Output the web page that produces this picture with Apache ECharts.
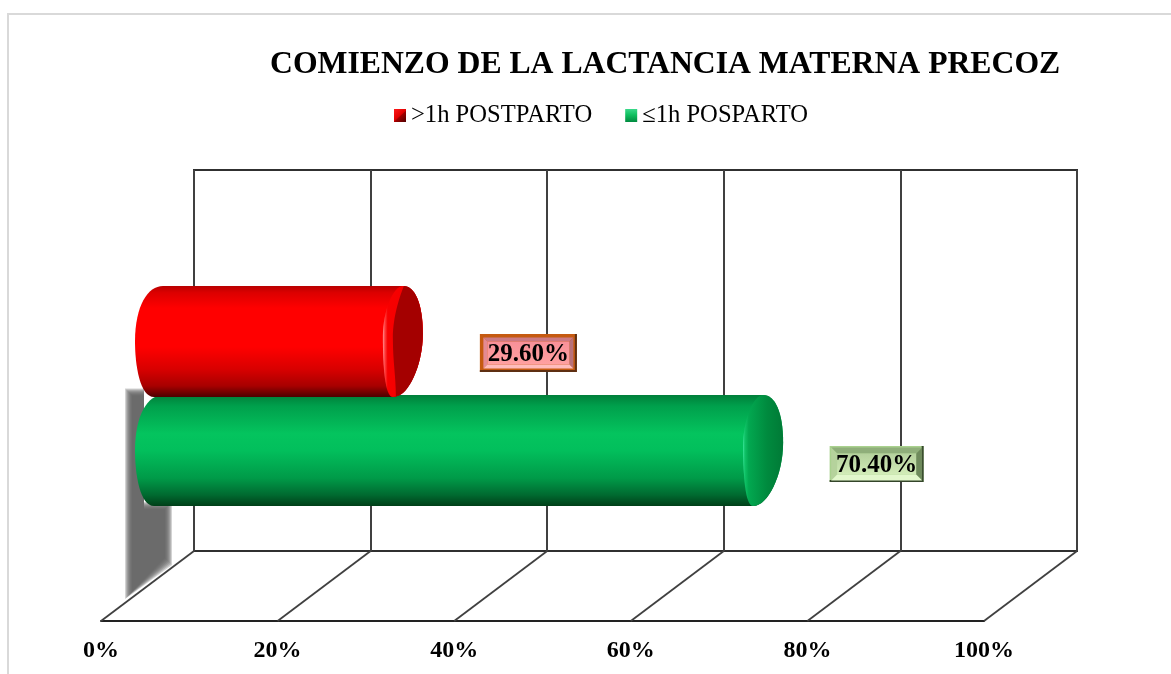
<!DOCTYPE html>
<html>
<head>
<meta charset="utf-8">
<style>html,body{margin:0;padding:0;background:#fff}#c{width:1171px;height:674px}</style>
<script src="https://cdn.jsdelivr.net/npm/echarts@6/dist/echarts.min.js"></script>
</head>
<body>
<div id="c"></div>
<script>
var titleText = 'COMIENZO DE LA LACTANCIA MATERNA PRECOZ';
var categories = ['Lactancia'];
var seriesNames = ['>1h POSTPARTO', '≤1h POSPARTO'];
var lateValues = [29.6];
var earlyValues = [70.4];
var ticks = [0, 20, 40, 60, 80, 100];

var FONT = '"Liberation Serif","Times New Roman",serif';
var LINE = '#404040';
var DX = -93, DY = 70;

function grad(horizontal, stops) {
  return {type:'linear', x:0, y:0, x2:horizontal?1:0, y2:horizontal?0:1,
    colorStops: stops.map(function(s){return {offset:s[0], color:s[1]};})};
}
function diag(stops) {
  return {type:'linear', x:0, y:0, x2:1, y2:1,
    colorStops: stops.map(function(s){return {offset:s[0], color:s[1]};})};
}
var redBody = grad(false, [[0,'#b80000'],[0.06,'#dc0000'],[0.2,'#ff0000'],[0.55,'#ff0000'],[0.75,'#d80000'],[0.9,'#a80000'],[1,'#4c0000']]);
var greenBody = grad(false, [[0,'#007f3a'],[0.1,'#00a04c'],[0.35,'#04c45e'],[0.5,'#02bf5c'],[0.75,'#009a48'],[0.9,'#006a30'],[1,'#003f18']]);
var redBand = grad(true, [[0,'#ff9090'],[0.05,'#ff4040'],[0.12,'#f80000'],[1,'#f00000']]);
var greenBand = grad(true, [[0,'#40e8a0'],[0.04,'#10c468'],[0.14,'#02a850'],[0.6,'#008a3e'],[1,'#007a36']]);
var redDark = '#a40000';
var redIcon = diag([[0,'#ff1a1a'],[0.5,'#e00000'],[0.55,'#a00000'],[1,'#500000']]);
var greenIcon = grad(false, [[0,'#3ad98a'],[0.45,'#10c060'],[1,'#008a40']]);

var boxStyles = {
  late: {dx:73, dy:11.5, w:97, h:38, o:3.5, border:4, outer:'#c55a11', outerDark:'#5e2f12',
         top:'#cc7a84', left:'#e48a92', right:'#b87078', bottom:'#ffbcbc', face:grad(false,[[0,'#f89098'],[1,'#ffa0a0']])},
  early:{dx:61, dy:13.5, w:94, h:36, o:1.5, border:6, outer:'#a9d18e', outerDark:'#34452a',
         top:'#8fae7a', left:'#b5d29c', right:'#6e8a5c', bottom:'#e2f7cc', face:grad(false,[[0,'#b4d09c'],[1,'#d2ecb8']])}
};

function polygon(points, fill) {
  return {type:'polygon', shape:{points:points}, style:{fill:fill}};
}
function bevelBox(cx, cy, st, label) {
  var x0=cx-st.w/2, y0=cy-st.h/2, x1=cx+st.w/2, y1=cy+st.h/2, b=st.border, o=st.o;
  var ix0=x0+o, iy0=y0+o, ix1=x1-o, iy1=y1-o;
  return [
    {type:'rect', shape:{x:x0,y:y0,width:st.w,height:st.h}, style:{fill:st.outer}},
    polygon([[x1-2,y0],[x1,y0],[x1,y1],[x0,y1],[x0,y1-2],[x1-2,y1-2]], st.outerDark),
    polygon([[ix0,iy0],[ix1,iy0],[ix1-b,iy0+b],[ix0+b,iy0+b]], st.top),
    polygon([[ix0,iy0],[ix0+b,iy0+b],[ix0+b,iy1-b],[ix0,iy1]], st.left),
    polygon([[ix1,iy0],[ix1,iy1],[ix1-b,iy1-b],[ix1-b,iy0+b]], st.right),
    polygon([[ix0,iy1],[ix0+b,iy1-b],[ix1-b,iy1-b],[ix1,iy1]], st.bottom),
    {type:'rect', shape:{x:ix0+b,y:iy0+b,width:ix1-ix0-2*b,height:iy1-iy0-2*b}, style:{fill:st.face}},
    {type:'text', x:cx, y:cy+2, style:{text:label, font:'bold 25px '+FONT, fill:'#000', align:'center', verticalAlign:'middle'}}
  ];
}

function softShadow(ox, cy, B, floorY) {
  var layers = [], steps = [4, 3, 2, 1, 0, -1, -2, -3];
  steps.forEach(function(d) {
    layers.push({type:'polygon',
      shape:{points:[[ox-65-d,cy-58-d],[ox-50,cy-58-d],[ox-50,B-d],[ox-26+d,B-d],[ox-26+d,floorY+10+d],[ox-65-d,floorY+44+d]]},
      style:{fill:'#606060', opacity:0.28}});
  });
  return layers;
}

function cylinderItem(body, band, dark, boxStyle, shift, withShadow) {
  return function(params, api) {
    var v = api.value(0);
    var end = api.coord([v, api.value(1)]);
    var origin = api.coord([0, api.value(1)]);
    var cy = end[1] + shift, T = cy-55.5, B = cy+55.5;
    var XL = origin[0]-59, XR = end[0]-32.5;
    var xT = XR-20, xB = XR-30;
    var rightArc = ' C'+(xT+12)+','+T+' '+XR+','+(cy-38)+' '+XR+','+(cy-8)+
      ' C'+XR+','+(cy+24)+' '+(xB+15)+','+B+' '+xB+','+B;
    var outline = 'M'+(XL+28)+','+T+' L'+xT+','+T+ rightArc +
      ' L'+(XL+19)+','+B+
      ' C'+(XL+5)+','+B+' '+XL+','+(cy+24)+' '+XL+','+cy+
      ' C'+XL+','+(cy-36)+' '+(XL+13)+','+T+' '+(XL+28)+','+T+' Z';
    var capPath = 'M'+xT+','+T+ rightArc +
      ' C'+(xB-8)+','+B+' '+(XR-40)+','+(cy+25)+' '+(XR-40)+','+(cy-5)+
      ' C'+(XR-40)+','+(cy-30)+' '+(xT-10)+','+T+' '+xT+','+T+' Z';
    var children = [];
    if (withShadow) {
      var floorY = params.coordSys.y + params.coordSys.height;
      children = children.concat(softShadow(origin[0], cy, B, floorY));
    }
    children.push({type:'path', shape:{pathData:outline}, style:{fill:body}});
    children.push({type:'path', shape:{pathData:capPath}, style:{fill:band}});
    if (dark) {
      var inner = 'M'+(xT+1)+','+T+ ' C'+(xT+12)+','+T+' '+XR+','+(cy-38)+' '+XR+','+(cy-8)+
        ' C'+XR+','+(cy+24)+' '+(xB+15)+','+B+' '+(xB+3)+','+(B-1)+
        ' C'+(xB+3)+','+(cy+35)+' '+(XR-30)+','+(cy+20)+' '+(XR-30)+','+(cy-3)+
        ' C'+(XR-30)+','+(cy-25)+' '+(xT-3)+','+(T+10)+' '+(xT+1)+','+T+' Z';
      children.push({type:'path', shape:{pathData:inner}, style:{fill:dark}});
    }
    var label = v.toFixed(2)+'%';
    children = children.concat(bevelBox(end[0]+boxStyle.dx, cy+boxStyle.dy, boxStyle, label));
    return {type:'group', children:children};
  };
}

function floorItem(params, api) {
  var p = api.coord([api.value(0), 0]);
  var y = params.coordSys.y + params.coordSys.height;
  return {type:'line', shape:{x1:p[0], y1:y, x2:p[0]+DX, y2:y+DY},
    style:{stroke:LINE, lineWidth:1.8}};
}

var chart = echarts.init(document.getElementById('c'), null, {renderer:'canvas'});
chart.setOption({
  animation:false,
  backgroundColor:'#fff',
  graphic:[{type:'rect', shape:{x:8,y:14,width:1400,height:900}, style:{fill:'none',stroke:'#d9d9d9',lineWidth:2}, silent:true}],
  title:{text:titleText, left:270, top:49, padding:0,
    textStyle:{fontFamily:FONT, fontWeight:'bold', fontSize:31.7, color:'#000'}},
  legend:{left:394, top:103, padding:0, itemWidth:12, itemHeight:13, itemGap:33, icon:'rect',
    data:seriesNames, selectedMode:false,
    textStyle:{fontFamily:FONT, fontSize:24.6, color:'#000', padding:[0,0,0,0]}},
  grid:[
    {left:194, width:883, top:170, height:381, show:true, borderColor:'#303030', borderWidth:2, backgroundColor:'transparent'},
    {left:101, width:883, top:551, height:70, show:false}
  ],
  xAxis:[
    {type:'value', gridIndex:0, min:ticks[0], max:ticks[ticks.length-1], interval:20,
      axisLine:{show:false}, axisTick:{show:false}, axisLabel:{show:false},
      splitLine:{show:true, lineStyle:{color:LINE, width:2}}},
    {type:'value', gridIndex:1, min:ticks[0], max:ticks[ticks.length-1], interval:20, position:'bottom',
      axisLine:{show:true, onZero:false, lineStyle:{color:'#222', width:2}}, axisTick:{show:false}, splitLine:{show:false},
      axisLabel:{show:true, margin:18, formatter:'{value}%', fontFamily:FONT, fontWeight:'bold', fontSize:24, color:'#000'}}
  ],
  yAxis:[
    {type:'category', gridIndex:0, data:categories, axisLine:{show:false}, axisTick:{show:false}, axisLabel:{show:false}, splitLine:{show:false}},
    {type:'value', gridIndex:1, show:false, min:0, max:1, splitLine:{show:false}}
  ],
  series:[
    {type:'custom', name:seriesNames[0], xAxisIndex:0, yAxisIndex:0, z:5, clip:false,
      itemStyle:{color:redIcon}, encode:{x:0,y:1},
      data:lateValues.map(function(v,i){return [v,i];}),
      renderItem:cylinderItem(redBody, redBand, redDark, boxStyles.late, -19, false)},
    {type:'custom', name:seriesNames[1], xAxisIndex:0, yAxisIndex:0, z:4, clip:false,
      itemStyle:{color:greenIcon}, encode:{x:0,y:1},
      data:earlyValues.map(function(v,i){return [v,i];}),
      renderItem:cylinderItem(greenBody, greenBand, null, boxStyles.early, 90, true)},
    {type:'custom', name:'floor', xAxisIndex:0, yAxisIndex:0, z:6, clip:false, silent:true, encode:{x:0},
      data:ticks.map(function(t){return [t];}), renderItem:floorItem}
  ]
});
</script>
</body>
</html>
